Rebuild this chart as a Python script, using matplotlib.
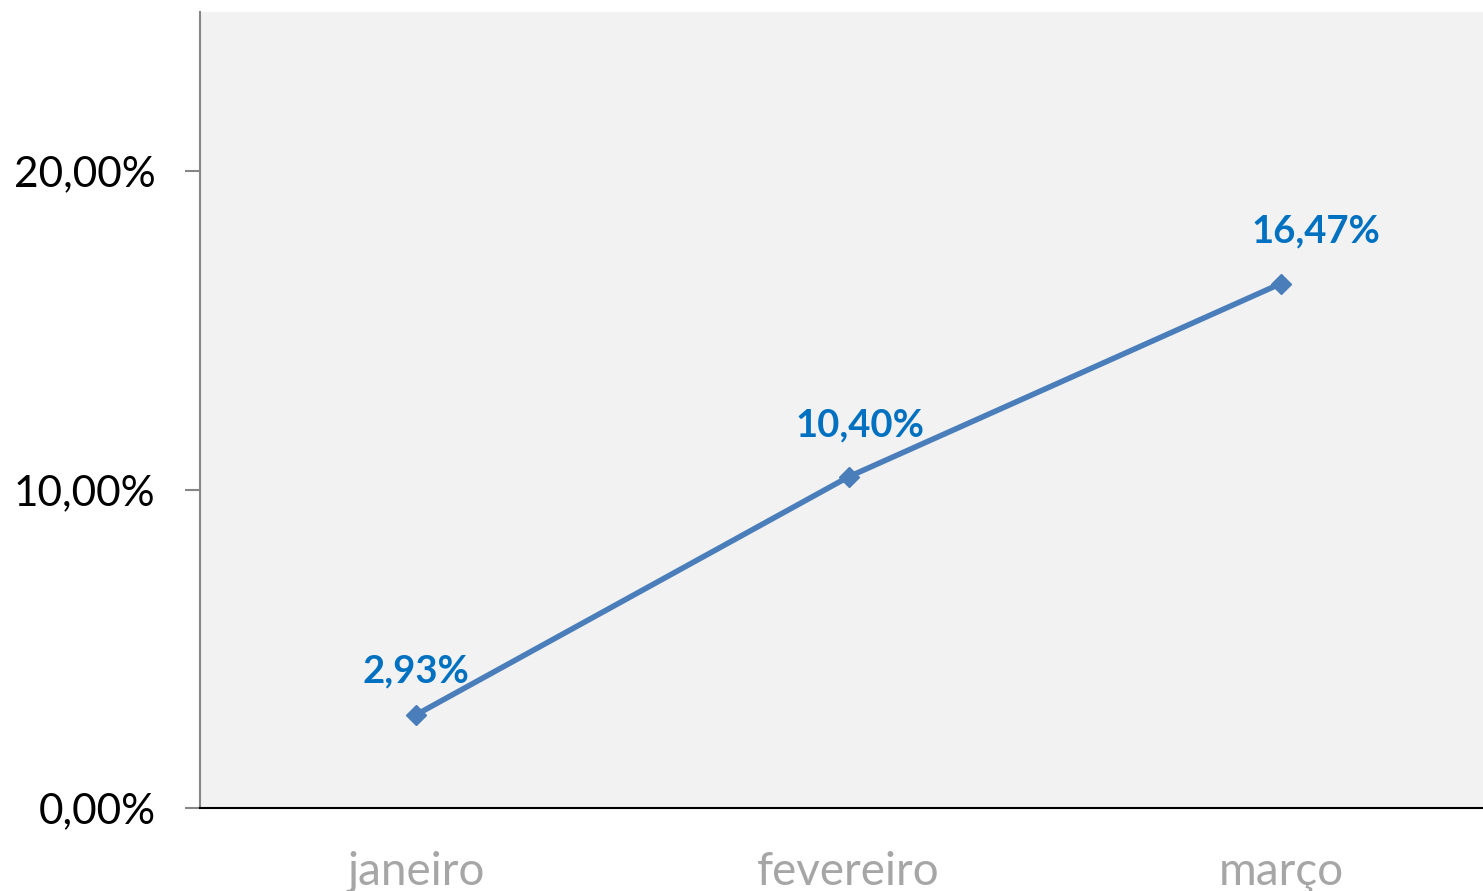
import matplotlib
matplotlib.use("Agg")
import matplotlib.pyplot as plt
from matplotlib.ticker import FuncFormatter

months = ["janeiro", "fevereiro", "março"]
values = [2.93, 10.40, 16.47]
labels = ["2,93%", "10,40%", "16,47%"]
# label offsets in pixels (dx, dy) relative to each point
label_dx = [0, 11, 35]
label_dy = [32, 40, 41]

plt.rcParams["font.family"] = ["Lato", "DejaVu Sans"]

fig = plt.figure(figsize=(14.83, 8.91), dpi=100)
ax = fig.add_axes([200 / 1483, 1 - 808 / 891, 1297 / 1483, 796 / 891])
ax.set_facecolor("#F2F2F2")

x = list(range(len(months)))
ax.plot(x, values, color="#4A7EBB", lw=4, marker="D", ms=10,
        markerfacecolor="#4A7EBB", markeredgecolor="#4A7EBB", zorder=3)

for i, v in enumerate(values):
    ax.annotate(labels[i], (x[i], v), xytext=(label_dx[i], label_dy[i]),
                textcoords="offset pixels", ha="center", va="baseline",
                fontsize=27.5, fontweight="bold", color="#0070C0")

ax.set_xlim(-0.5, 2.5)
ax.set_ylim(0, 25)
ax.set_yticks([0, 10, 20])
ax.yaxis.set_major_formatter(FuncFormatter(lambda v, p: f"{v:.2f}%".replace(".", ",")))
ax.set_xticks(x)
ax.set_xticklabels(months)

ax.tick_params(axis="y", length=11, width=1.5, color="#868686", pad=21,
               labelsize=30.5, labelcolor="black")
ax.tick_params(axis="x", length=0, pad=31, labelsize=33, labelcolor="#A6A6A6")

for s in ["top", "right"]:
    ax.spines[s].set_visible(False)
ax.spines["left"].set_color("#868686")
ax.spines["left"].set_linewidth(1.5)
ax.spines["bottom"].set_color("black")
ax.spines["bottom"].set_linewidth(1.5)

fig.savefig("out.png", dpi=100)
